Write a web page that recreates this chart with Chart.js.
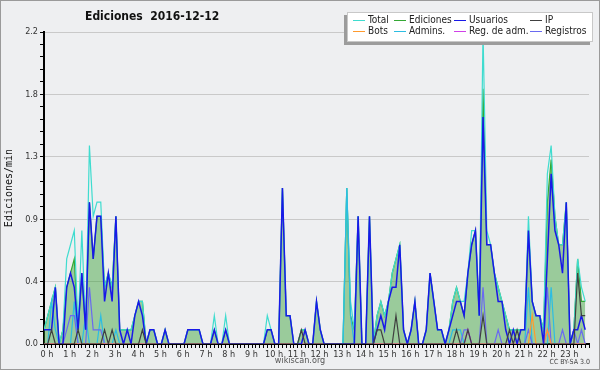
<!DOCTYPE html>
<html>
<head>
<meta charset="utf-8">
<script src="https://cdn.jsdelivr.net/npm/chart.js@4.4.0/dist/chart.umd.min.js"></script>
<style>
  body { margin: 0; background: #eeeff1; }
  #wrap { position: relative; width: 600px; height: 370px; font-family: 'DejaVu Sans Condensed', 'DejaVu Sans', sans-serif; }
  #chart { position: absolute; left: 0; top: 0; }
  #title { position: absolute; left: 85px; top: 9px; font-weight: bold; font-size: 12px; white-space: pre; color: #111; }
  #legend { position: absolute; left: 347px; top: 12px; width: 246px; height: 30px; background: #fff;
            border: 1px solid #c8c8c8; box-shadow: -3px 3px 0 #9c9c9c; box-sizing: border-box; }
  .item { position: absolute; font-size: 10px; line-height: 11px; color: #222; white-space: nowrap; }
  .item span { display: inline-block; width: 12px; height: 0; border-top: 1px solid; vertical-align: middle; margin-right: 3px; }
  #site { position: absolute; left: 0; width: 600px; top: 355px; text-align: center; font-size: 9px; color: #555; }
  #cc { position: absolute; right: 10px; top: 358px; font-size: 7px; color: #444; }
</style>
</head>
<body>
<div id="wrap">
  <canvas id="chart" width="600" height="370"></canvas>
  <div id="title">Ediciones  2016-12-12</div>
  <div id="legend"></div>
  <div id="site">wikiscan.org</div>
  <div id="cc">CC BY-SA 3.0</div>
</div>
<script>
// 10 minute bins, 144 per day, values in edits/min
const hourLabels = ['0 h','1 h','2 h','3 h','4 h','5 h','6 h','7 h','8 h','9 h','10 h','11 h',
                    '12 h','13 h','14 h','15 h','16 h','17 h','18 h','19 h','20 h','21 h','22 h','23 h'];
const yTickLabels = ['0.0','0.4','0.9','1.3','1.8','2.2'];

const total = [
  0.1,0.2,0.3,0.4,0,0.1, 0.6,0.7,0.8,0.1,0.8,0.1,
  1.4,0.9,1.0,1.0,0.4,0.5, 0.4,0.9,0.1,0.1,0.1,0.1,
  0.2,0.3,0.3,0,0.1,0.1, 0,0,0.1,0,0,0,
  0,0,0.1,0.1,0.1,0.1, 0,0,0,0.2,0,0,
  0.2,0,0,0,0,0, 0,0,0,0,0,0.2,
  0.1,0,0,1.1,0.2,0.2, 0,0,0.1,0.1,0,0,
  0.3,0.1,0,0,0,0, 0,0,1.1,0.3,0.1,0.9,
  0,0,0.9,0,0.2,0.3, 0.2,0.3,0.5,0.6,0.7,0.1,
  0,0.1,0.3,0,0,0.1, 0.5,0.3,0.1,0.1,0,0.1,
  0.3,0.4,0.3,0.3,0.5,0.8, 0.8,0.2,2.2,0.8,0.7,0.5,
  0.4,0.3,0.2,0.1,0.1,0.1, 0.1,0.1,0.9,0.3,0.2,0.2,
  0.1,1.2,1.4,0.9,0.7,0.7, 1.0,0,0.1,0.6,0.4,0.3
];
const edits = [
  0.1,0.2,0.3,0.4,0,0.1, 0.4,0.5,0.6,0.1,0.5,0.1,
  1.0,0.6,0.9,0.9,0.4,0.5, 0.4,0.9,0.1,0.1,0.1,0.1,
  0.2,0.3,0.3,0,0.1,0.1, 0,0,0.1,0,0,0,
  0,0,0.1,0.1,0.1,0.1, 0,0,0,0.1,0,0,
  0.1,0,0,0,0,0, 0,0,0,0,0,0.1,
  0.1,0,0,1.1,0.2,0.2, 0,0,0.1,0.1,0,0,
  0.3,0.1,0,0,0,0, 0,0,1.1,0.2,0.1,0.9,
  0,0,0.9,0,0.2,0.3, 0.2,0.3,0.5,0.6,0.7,0.1,
  0,0.1,0.3,0,0,0.1, 0.5,0.3,0.1,0.1,0,0.1,
  0.3,0.4,0.3,0.2,0.5,0.7, 0.8,0.2,1.8,0.7,0.7,0.5,
  0.4,0.3,0.2,0.1,0.1,0.1, 0.1,0.1,0.8,0.3,0.2,0.2,
  0.1,1.0,1.3,0.9,0.7,0.7, 1.0,0,0.1,0.6,0.3,0.3
];
const users = [
  0.1,0.1,0.1,0.4,0,0, 0.4,0.5,0.4,0.1,0.5,0.1,
  1.0,0.6,0.9,0.9,0.3,0.5, 0.3,0.9,0.1,0,0.1,0,
  0.2,0.3,0.2,0,0.1,0.1, 0,0,0.1,0,0,0,
  0,0,0.1,0.1,0.1,0.1, 0,0,0,0.1,0,0,
  0.1,0,0,0,0,0, 0,0,0,0,0,0.1,
  0.1,0,0,1.1,0.2,0.2, 0,0,0,0.1,0,0,
  0.3,0.1,0,0,0,0, 0,0,0,0,0,0.9,
  0,0,0.9,0,0.1,0.2, 0.1,0.3,0.4,0.4,0.7,0.1,
  0,0.1,0.3,0,0,0.1, 0.5,0.3,0.1,0.1,0,0.1,
  0.2,0.3,0.3,0.2,0.5,0.7, 0.8,0.2,1.6,0.7,0.7,0.5,
  0.3,0.3,0.1,0,0.1,0, 0.1,0.1,0.8,0.3,0.2,0.2,
  0,0.6,1.2,0.8,0.7,0.5, 1.0,0,0.1,0.1,0.2,0.1
];
const ipEdits = [
  0,0,0.1,0,0,0, 0,0,0,0.1,0,0,
  0,0,0,0,0.1,0, 0.1,0,0,0,0,0,
  0,0,0.1,0,0,0, 0,0,0,0,0,0,
  0,0,0,0,0,0, 0,0,0,0,0,0,
  0,0,0,0,0,0, 0,0,0,0,0,0,
  0,0,0,0,0,0, 0,0,0.1,0,0,0,
  0,0,0,0,0,0, 0,0,0,0,0,0,
  0,0,0,0,0.1,0.1, 0,0,0,0.2,0,0,
  0,0,0,0,0,0, 0,0,0,0,0,0,
  0,0.1,0,0,0.1,0, 0,0,0.2,0,0,0,
  0,0,0,0.1,0,0.1, 0,0,0,0,0,0,
  0,0,0,0,0,0, 0,0,0,0.5,0.2,0.2
];
const bots = [
  0,0,0,0,0,0, 0,0,0,0,0,0,
  0,0,0,0,0,0, 0,0,0,0,0,0,
  0,0,0,0,0,0, 0,0,0,0,0,0,
  0,0,0,0,0,0, 0,0,0,0,0,0,
  0,0,0,0,0,0, 0,0,0,0,0,0,
  0,0,0,0,0,0, 0,0,0,0,0,0,
  0,0,0,0,0,0, 0,0,0,0,0,0,
  0,0,0,0,0,0, 0,0,0,0,0,0,
  0,0,0,0,0,0, 0,0,0,0,0,0,
  0,0,0,0,0,0, 0,0,0,0,0,0,
  0,0,0,0,0,0, 0,0,0,0.2,0,0,
  0,0.1,0,0,0,0, 0,0,0,0,0,0
];
const admins = [
  0,0,0.3,0.1,0,0, 0,0,0.3,0,0,0.2,
  0,0,0,0.2,0,0, 0,0.1,0,0,0,0,
  0,0,0,0,0,0, 0,0,0,0,0,0,
  0,0,0,0,0,0, 0,0,0,0,0,0,
  0,0,0,0,0,0, 0,0,0,0,0,0,
  0,0,0,0,0,0, 0,0,0,0,0,0,
  0,0,0,0,0,0, 0,0,1.1,0.2,0,0,
  0,0,0,0,0,0, 0,0,0,0,0,0,
  0,0,0,0,0,0, 0,0,0,0,0,0,
  0.1,0.1,0.1,0,0,0, 0,0,0,0,0,0,
  0,0,0,0,0,0, 0,0,0.4,0,0,0,
  0,0,0.4,0,0,0, 0,0,0,0,0,0
];
const adminLogs = [
  0,0,0,0,0,0, 0,0,0,0,0,0,
  0,0,0,0,0,0, 0,0,0,0,0,0,
  0,0,0,0,0,0, 0,0,0,0,0,0,
  0,0,0,0,0,0, 0,0,0,0,0,0,
  0,0,0,0,0,0, 0,0,0,0,0,0,
  0,0,0,0,0,0, 0,0,0,0,0,0,
  0,0,0,0,0,0, 0,0,0,0,0,0,
  0,0,0,0,0,0, 0,0,0,0,0,0,
  0,0,0,0,0,0, 0,0,0,0,0,0,
  0,0,0,0,0.1,0, 0,0,0,0,0,0,
  0,0,0,0,0,0, 0,0,0,0,0,0,
  0,0.1,0,0,0,0, 0,0,0,0,0,0
];
const logs = [
  0,0,0,0,0,0, 0.1,0.2,0.2,0,0,0,
  0.4,0.1,0.1,0.1,0,0, 0,0,0,0,0,0,
  0,0,0,0,0,0, 0,0,0,0,0,0,
  0,0,0,0,0,0, 0,0,0,0,0,0,
  0,0,0,0,0,0, 0,0,0,0,0,0,
  0,0,0,0,0,0, 0,0,0,0,0,0,
  0,0,0,0,0,0, 0,0,0,0,0,0,
  0,0,0,0,0,0, 0,0,0,0,0,0,
  0,0,0,0,0,0, 0,0,0,0,0,0,
  0,0,0,0.1,0.1,0, 0,0,0.4,0,0,0,
  0.1,0,0,0,0,0, 0,0,0.1,0,0,0,
  0,0.4,0,0,0,0.1, 0,0,0.1,0,0.1,0
];

function pts(arr) {
  return arr.map((v, i) => ({ x: i, y: v }));
}

function line(label, data, color, order, extra) {
  return Object.assign({
    label: label,
    data: pts(data),
    borderColor: color,
    borderWidth: 1.2,
    pointRadius: 0,
    tension: 0,
    fill: false,
    order: order
  }, extra || {});
}

const datasets = [
  line('Total', total, '#3fdccf', 4),
  line('Ediciones', edits, '#34a834', 5, { fill: 'origin', backgroundColor: 'rgba(50,160,50,0.45)' }),
  line('Usuarios', users, '#1818e8', 1, { borderWidth: 1.5 }),
  line('IP', ipEdits, '#404040', 0),
  line('Bots', bots, '#ff9a2e', 2),
  line('Admins.', admins, '#2cbde2', 3),
  line('Reg. de adm.', adminLogs, '#d040e8', 2),
  line('Registros', logs, '#6a6af0', 2)
];

// legend, 4 columns x 2 rows
const legendCols = [5, 46, 106, 182];
const legendRows = [1, 12];
const legend = document.getElementById('legend');
datasets.forEach((ds, k) => {
  const el = document.createElement('div');
  el.className = 'item';
  el.style.left = legendCols[k % 4] + 'px';
  el.style.top = legendRows[Math.floor(k / 4)] + 'px';
  el.innerHTML = '<span style="border-color:' + ds.borderColor + '"></span>' + ds.label;
  legend.appendChild(el);
});

const yMax = 2.2;
const yMinor = 25;
const tickFont = { family: 'DejaVu Sans Condensed', size: 9 };

new Chart(document.getElementById('chart').getContext('2d'), {
  type: 'line',
  data: { datasets: datasets },
  options: {
    responsive: false,
    animation: false,
    devicePixelRatio: 1,
    layout: { padding: { top: 32, right: 11, bottom: 0, left: 0 } },
    plugins: {
      legend: { display: false },
      tooltip: { enabled: false },
      title: { display: false }
    },
    scales: {
      x: {
        type: 'linear',
        min: 0,
        max: 144,
        z: 1,
        afterBuildTicks: s => {
          const t = [];
          for (let i = 0; i <= 144; i++) t.push({ value: i });
          s.ticks = t;
        },
        afterFit: s => { s.height = 26; },
        ticks: {
          autoSkip: false,
          maxRotation: 0,
          minRotation: 0,
          padding: 1,
          labelOffset: 3,
          color: '#333',
          font: tickFont,
          callback: v => (v % 6 === 0 && v < 144) ? hourLabels[v / 6] : ''
        },
        grid: { drawOnChartArea: false, drawTicks: true, tickLength: 4, color: '#000', lineWidth: 1 },
        border: { display: true, color: '#000', width: 2 }
      },
      y: {
        type: 'linear',
        min: 0,
        max: yMax,
        afterBuildTicks: s => {
          const t = [];
          for (let i = 0; i <= yMinor; i++) t.push({ value: yMax * i / yMinor });
          s.ticks = t;
        },
        afterFit: s => { s.width = 44; },
        ticks: {
          autoSkip: false,
          padding: 2,
          color: '#333',
          font: tickFont,
          callback: (v, i) => i % 5 === 0 ? yTickLabels[i / 5] : ''
        },
        grid: {
          color: c => (c.index % 5 === 0 && c.index > 0) ? '#c9c9c9' : 'rgba(0,0,0,0)',
          tickColor: '#000',
          tickLength: 4,
          lineWidth: 1
        },
        border: { display: true, color: '#000', width: 2 },
        title: {
          display: true,
          text: 'Ediciones/min',
          color: '#111',
          padding: 3,
          font: { family: 'DejaVu Sans Mono', size: 10 }
        }
      }
    }
  },
  plugins: [{
    id: 'frame',
    beforeDraw: chart => {
      const c = chart.ctx;
      c.save();
      c.fillStyle = '#eeeff1';
      c.fillRect(0, 0, 600, 370);
      c.strokeStyle = '#9a9a9a';
      c.lineWidth = 1;
      c.strokeRect(0.5, 0.5, 599, 369);
      c.restore();
    }
  }]
});
</script>
</body>
</html>
